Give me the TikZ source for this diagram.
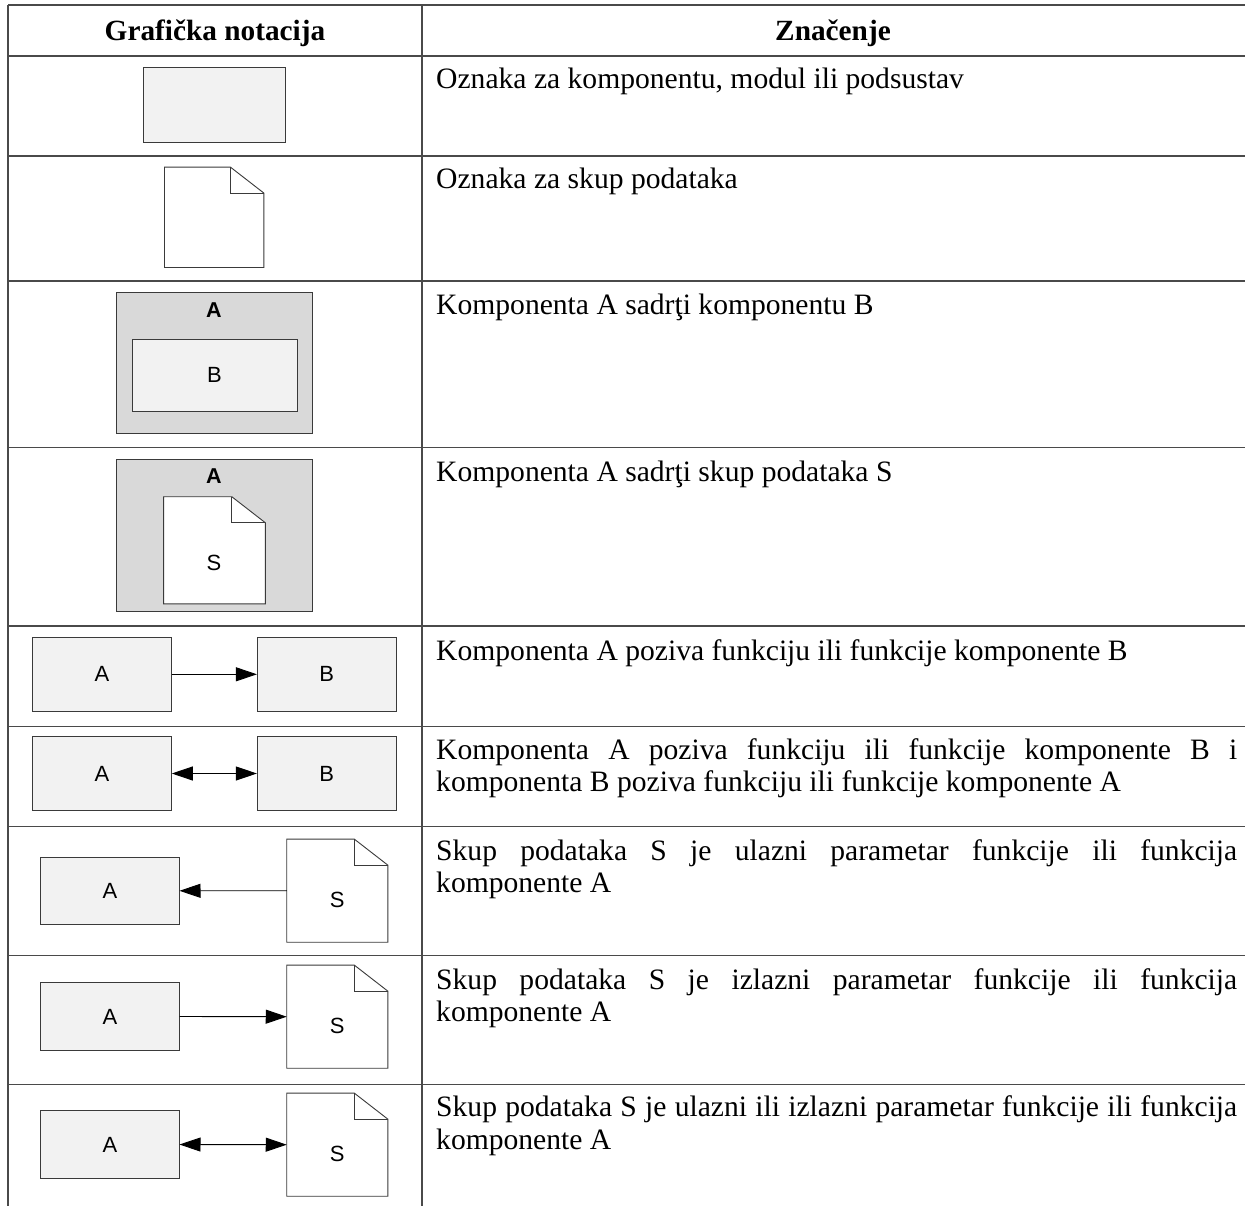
\documentclass[tikz,border=0pt]{standalone}
\usepackage{fontspec}
\setmainfont{Liberation Serif}
\newfontfamily\lsans{Liberation Sans}
\usetikzlibrary{arrows.meta}
\definecolor{boxfill}{HTML}{F2F2F2}
\definecolor{contfill}{HTML}{D9D9D9}
\definecolor{edge}{HTML}{3A3A3A}
\definecolor{rulecol}{HTML}{4A4A4A}
\newcommand\docout[1]{%
  \draw[draw=edge, fill=white, line width=0.9pt] (#1.south west) -- (#1.north west) -- ([xshift=-33.5pt]#1.north east) -- ([yshift=-26pt]#1.north east) -- (#1.south east) -- cycle;
  \draw[draw=edge, line width=0.9pt] ([xshift=-33.5pt]#1.north east) -- ([xshift=-33.5pt,yshift=-26pt]#1.north east) -- ([yshift=-26pt]#1.north east);}
\begin{document}
\begin{tikzpicture}[x=1pt,y=-1pt,
  comp/.style={draw=edge, fill=boxfill, line width=0.9pt, inner sep=0pt, font=\lsans\fontsize{22}{25}\selectfont},
  cont/.style={draw=edge, fill=contfill, line width=0.9pt, inner sep=0pt},
  docnode/.style={inner sep=0pt},
  lab/.style={inner sep=0pt, font=\lsans\fontsize{22}{25}\selectfont},
  blab/.style={inner sep=0pt, font=\lsans\bfseries\fontsize{21.5}{25}\selectfont},
  txt/.style={anchor=base west, inner sep=0pt, font=\fontsize{29.6}{33}\selectfont},
  head/.style={anchor=base, inner sep=0pt, font=\bfseries\fontsize{29.3}{33}\selectfont},
  conn/.style={draw=black, line width=0.9pt, -{Triangle[length=21pt,width=14pt]}},
  conn2/.style={draw=black, line width=0.9pt, {Triangle[length=21pt,width=14pt]}-{Triangle[length=21pt,width=14pt]}},
  rulestyle/.style={draw=rulecol, line width=1.4pt}]
\useasboundingbox (0,0) rectangle (1245,1206);
\fill[white] (0,0) rectangle (1245,1206);

% table rules
\foreach \yy in {5,56,156,281,447.5,626,726.5,826.7,955.7,1084.7}
  \draw[rulestyle] (8,\yy) -- (1245,\yy);
\draw[rulestyle] (8,5) -- (8,1206);
\draw[rulestyle] (422,5) -- (422,1206);

% header
\node[head] (h1) at (215,41) {Grafička notacija};
\node[head] (h2) at (833,41) {Značenje};

% row 1
\node[comp, minimum width=142.7pt, minimum height=74.7pt] (r1) at (214.3,104.7) {};
% row 2
\node[docnode, minimum width=99pt, minimum height=100pt] (d2) at (214.2,217.3) {};
\docout{d2}
% row 3
\node[cont, minimum width=195.3pt, minimum height=140.6pt] (c3) at (214.3,363) {};
\node[blab] (c3a) at (214,310) {A};
\node[comp, minimum width=165pt, minimum height=71.3pt] (b3) at (214.5,375.3) {B};
% row 4
\node[cont, minimum width=195.3pt, minimum height=152.3pt] (c4) at (214.3,535.2) {};
\node[blab] (c4a) at (214,476) {A};
\node[docnode, minimum width=101.3pt, minimum height=106.7pt] (d4) at (214.5,550.3) {};
\docout{d4}
\node[lab] (d4s) at (214,562.7) {S};
% row 5
\node[comp, minimum width=138.7pt, minimum height=74pt] (a5) at (102,674.3) {A};
\node[comp, minimum width=138.7pt, minimum height=74pt] (b5) at (326.7,674.3) {B};
\draw[conn] (a5.east) -- (b5.west);
% row 6
\node[comp, minimum width=138.7pt, minimum height=74.4pt] (a6) at (102,773.5) {A};
\node[comp, minimum width=138.7pt, minimum height=74.4pt] (b6) at (326.7,773.5) {B};
\draw[conn2] (a6.east) -- (b6.west);
% row 7
\node[comp, minimum width=138.3pt, minimum height=67.7pt] (a7) at (109.9,890.8) {A};
\node[docnode, minimum width=100.7pt, minimum height=102.7pt] (d7) at (337.3,890.7) {};
\docout{d7}
\node[lab] (d7s) at (337.3,900) {S};
\draw[conn] (d7.west) -- (a7.east);
% row 8
\node[comp, minimum width=138.3pt, minimum height=67.7pt] (a8) at (109.9,1016.5) {A};
\node[docnode, minimum width=100.7pt, minimum height=102.7pt] (d8) at (337.3,1016.7) {};
\docout{d8}
\node[lab] (d8s) at (337.3,1026) {S};
\draw[conn] (a8.east) -- (d8.west);
% row 9
\node[comp, minimum width=138.3pt, minimum height=67.7pt] (a9) at (109.9,1144.5) {A};
\node[docnode, minimum width=100.7pt, minimum height=102.7pt] (d9) at (337.3,1144.7) {};
\docout{d9}
\node[lab] (d9s) at (337.3,1154) {S};
\draw[conn2] (a9.east) -- (d9.west);

% meanings
\node[txt] (t1) at (436,89) {Oznaka za komponentu, modul ili podsustav};
\node[txt] (t2) at (436,189) {Oznaka za skup podataka};
\node[txt] (t3) at (436,314.5) {Komponenta A sadrţi komponentu B};
\node[txt] (t4) at (436,481) {Komponenta A sadrţi skup podataka S};
\node[txt] (t5) at (436,660) {Komponenta A poziva funkciju ili funkcije komponente B};
\node[txt] (t6a) at (436,759.5) {\makebox[801pt][s]{Komponenta A poziva funkciju ili funkcije komponente B i}};
\node[txt] (t6b) at (436,791.5) {komponenta B poziva funkciju ili funkcije komponente A};
\node[txt] (t7a) at (436,860) {\makebox[801pt][s]{Skup podataka S je ulazni parametar funkcije ili funkcija}};
\node[txt] (t7b) at (436,892.5) {komponente A};
\node[txt] (t8a) at (436,989) {\makebox[801pt][s]{Skup podataka S je izlazni parametar funkcije ili funkcija}};
\node[txt] (t8b) at (436,1021.5) {komponente A};
\node[txt] (t9a) at (436,1116.5) {\makebox[801pt][s]{Skup podataka S je ulazni ili izlazni parametar funkcije ili funkcija}};
\node[txt] (t9b) at (436,1149) {komponente A};
\end{tikzpicture}
\end{document}
